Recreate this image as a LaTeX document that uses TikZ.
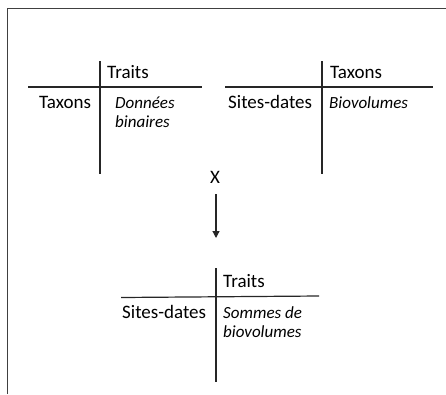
\documentclass[tikz,border=0pt]{standalone}
\usepackage{fontspec}
\setmainfont{Carlito}
\usetikzlibrary{arrows.meta}
\begin{document}
\begin{tikzpicture}[x=1pt,y=-1pt,
  lbl/.style={anchor=base west,inner sep=0pt,font=\fontsize{19}{20}\selectfont},
  cell/.style={anchor=base west,inner sep=0pt,font=\fontsize{17}{19}\selectfont\itshape},
  rule/.style={line width=1.2pt,draw=black!85}]
\useasboundingbox (0,0) rectangle (446,394);
% frame (open at right and bottom)
\draw[line width=1.6pt,draw=black!75] (7.5,394) -- (7.5,8.5) -- (446,8.5);
% table 1
\draw[rule] (100,61) -- (100,174);
\draw[rule] (28,87) -- (202,87);
\node[lbl] (t1c) at (107,78) {Traits};
\node[lbl] (t1r) at (39,108) {Taxons};
\node[cell] (t1d) at (115,108) {Données};
\node[cell] (t1e) at (115,127.5) {binaires};
% table 2
\draw[rule] (322,61) -- (322,174);
\draw[rule] (225,87) -- (433,87);
\node[lbl] (t2c) at (330,78) {Taxons};
\node[lbl] (t2r) at (228,108) {Sites-dates};
\node[cell] (t2d) at (329,108) {Biovolumes};
% operator and arrow
\node[lbl,anchor=base] (x) at (215,183) {X};
\coordinate (a1) at (216,194);
\coordinate (a2) at (216,238);
\draw[line width=1.2pt,draw=black!85,-{Triangle[length=7pt,width=7pt]}] (a1) -- (a2);
% table 3
\draw[rule] (216,268) -- (216,382);
\draw[rule] (121,297.5) -- (319,296);
\node[lbl] (t3c) at (223,287) {Traits};
\node[lbl] (t3r) at (122,318) {Sites-dates};
\node[cell] (t3d) at (223,318) {Sommes de};
\node[cell] (t3e) at (223,337.5) {biovolumes};
\end{tikzpicture}
\end{document}
